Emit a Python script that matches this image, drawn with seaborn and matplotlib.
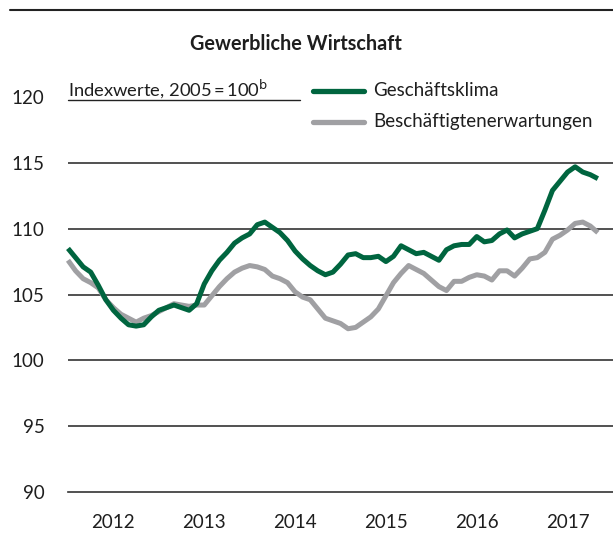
import numpy as np
import pandas as pd
import matplotlib
matplotlib.use("Agg")
import matplotlib.pyplot as plt
import seaborn as sns
from matplotlib.lines import Line2D

# ---- data (monthly, Jan 2012 .. Nov 2017) ----
geschaeftsklima = [
    108.5, 107.8, 107.1, 106.7, 105.7, 104.6, 103.8, 103.2, 102.7, 102.6, 102.7, 103.3,
    103.8, 104.0, 104.2, 104.0, 103.8, 104.3, 105.8, 106.8, 107.6, 108.2, 108.9, 109.3,
    109.6, 110.3, 110.5, 110.1, 109.7, 109.1, 108.3, 107.7, 107.2, 106.8, 106.5, 106.7,
    107.3, 108.0, 108.1, 107.8, 107.8, 107.9, 107.5, 107.9, 108.7, 108.4, 108.1, 108.2,
    107.9, 107.6, 108.4, 108.7, 108.8, 108.8, 109.4, 109.0, 109.1, 109.6, 109.9, 109.3,
    109.6, 109.8, 110.0, 111.4, 112.9, 113.6, 114.3, 114.7, 114.3, 114.1, 113.8,
]
beschaeftigtenerwartungen = [
    107.6, 106.8, 106.2, 105.9, 105.5, 104.6, 104.0, 103.5, 103.2, 102.9, 103.2, 103.4,
    103.7, 104.0, 104.3, 104.2, 104.1, 104.2, 104.2, 104.9, 105.6, 106.2, 106.7, 107.0,
    107.2, 107.1, 106.9, 106.4, 106.2, 105.9, 105.2, 104.8, 104.6, 103.9, 103.2, 103.0,
    102.8, 102.4, 102.5, 102.9, 103.3, 103.9, 104.9, 105.9, 106.6, 107.2, 106.9, 106.6,
    106.1, 105.6, 105.3, 106.0, 106.0, 106.3, 106.5, 106.4, 106.1, 106.8, 106.8, 106.4,
    107.0, 107.7, 107.8, 108.2, 109.2, 109.5, 109.9, 110.4, 110.5, 110.2, 109.7,
]
series_names = ["Geschäftsklima", "Beschäftigtenerwartungen"]
year_labels = ["2012", "2013", "2014", "2015", "2016", "2017"]
y_ticks = [90, 95, 100, 105, 110, 115, 120]
title = "Gewerbliche Wirtschaft"
unit_label = "Indexwerte, 2005\u2009=\u2009100$^{\\mathrm{b}}$"

start_year = int(year_labels[0])
n = len(geschaeftsklima)
t = start_year + np.arange(n) / 12.0
df = pd.DataFrame({
    "t": np.concatenate([t, t]),
    "wert": geschaeftsklima + beschaeftigtenerwartungen,
    "reihe": [series_names[0]] * n + [series_names[1]] * n,
})

GREEN = "#00653f"
GRAY = "#a0a0a3"
TXT = "#1e1e1e"
FS = 13.5

sns.set_theme(style="white")
plt.rcParams["font.family"] = ["Lato", "DejaVu Sans"]

fig = plt.figure(figsize=(6.13, 5.33), dpi=100)
ax = fig.add_axes([68 / 613, 41 / 533, 545 / 613, (492 - 97) / 533])

sns.lineplot(data=df, x="t", y="wert", hue="reihe",
             palette={series_names[0]: GREEN, series_names[1]: GRAY},
             hue_order=series_names[::-1], linewidth=3.6, ax=ax,
             legend=False, clip_on=False)
for ln in ax.lines:
    ln.set_solid_capstyle("butt")
    ln.set_solid_joinstyle("round")

ax.set_xlim(start_year, start_year + len(year_labels))
ax.set_ylim(90, 120)
for s in ["top", "right", "left"]:
    ax.spines[s].set_visible(False)
ax.spines["bottom"].set_color("#333333")
ax.spines["bottom"].set_linewidth(1.2)

for v in y_ticks[1:-1]:
    ax.axhline(v, color="#333333", lw=1.2, zorder=0)

ax.set_yticks(y_ticks)
ax.set_yticklabels([str(v) for v in y_ticks], fontsize=FS, color=TXT)
ax.tick_params(axis="y", length=0, pad=17)
for lab in ax.get_yticklabels():
    lab.set_horizontalalignment("right")

majors = [start_year + k for k in range(len(year_labels) + 1)]
ax.set_xticks(majors)
ax.set_xticklabels([""] * len(majors))
ax.set_xticks([start_year + k + 0.5 for k in range(len(year_labels))], minor=True)
ax.set_xticklabels(year_labels, minor=True, fontsize=FS, color=TXT)
ax.tick_params(axis="x", which="major", length=6, width=1.1, color="#333333", direction="out")
ax.tick_params(axis="x", which="minor", length=0, pad=16)
ax.set_xlabel("")
ax.set_ylabel("")

# title
fig.text(296 / 613, 1 - 44 / 533, title, ha="center", va="center",
         fontsize=14.3, fontweight="bold", color=TXT)

# unit label with underline
fig.text(68 / 613, 1 - 89 / 533, unit_label, ha="left", va="center",
         fontsize=13.2, color=TXT)
fig.add_artist(Line2D([68 / 613, 300 / 613], [1 - 100 / 533, 1 - 100 / 533],
                      color="#222222", lw=1.0, transform=fig.transFigure))

# top rule
fig.add_artist(Line2D([10 / 613, 1.0], [1 - 9.5 / 533, 1 - 9.5 / 533],
                      color="#222222", lw=1.5, transform=fig.transFigure))

# legend (manual)
for (name, col, yy) in [(series_names[0], GREEN, 91), (series_names[1], GRAY, 122)]:
    fig.add_artist(Line2D([313 / 613, 364 / 613], [1 - yy / 533, 1 - yy / 533],
                          color=col, lw=3.8, solid_capstyle="round",
                          transform=fig.transFigure))
    fig.text(373 / 613, 1 - yy / 533, name, ha="left", va="center",
             fontsize=FS, color=TXT)

fig.savefig("out.png", dpi=100)
